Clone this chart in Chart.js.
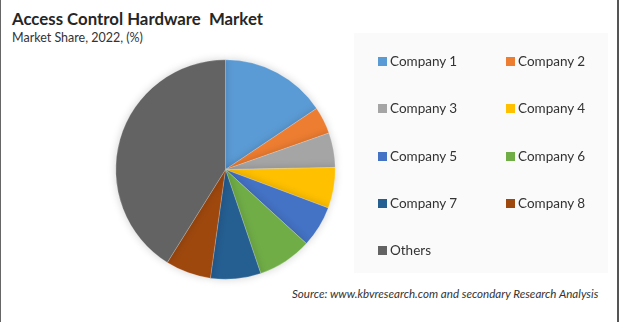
<!DOCTYPE html>
<html>
<head>
<meta charset="utf-8">
<script src="https://cdn.jsdelivr.net/npm/chart.js@4/dist/chart.umd.min.js"></script>
<style>
  html, body { margin: 0; padding: 0; background: #fff; }
  #wrap { position: relative; width: 619px; height: 322px; overflow: hidden; background: #fff;
          box-sizing: border-box; border-left: 1px solid #666; border-right: 2px solid #555; }
  .t { position: absolute; white-space: nowrap; font-family: Lato, "Open Sans", sans-serif; color: #262626; line-height: 1; }
  #title { left: 11px; top: 11px; font-size: 16.8px; font-weight: 700; }
  #subtitle { left: 11px; top: 32px; font-size: 12.5px; color: #333; }
  #source { left: 291px; top: 288px; font-size: 11.6px; font-style: italic; color: #333; }
  #legendBox { position: absolute; left: 353px; top: 33px; width: 254px; height: 240px; background: #fafafa; }
  .li { position: absolute; font-family: Lato, "Open Sans", sans-serif; font-size: 13.5px; color: #333; line-height: 1; white-space: nowrap; }
  .li span.sw { position: absolute; left: 0; top: 2px; width: 9px; height: 9px; }
  .li span.tx { position: absolute; left: 12px; top: 0; }
  #c { position: absolute; left: 0; top: 0; }
</style>
</head>
<body>
<div id="wrap">
  <div class="t" id="title">Access Control Hardware&nbsp; Market</div>
  <div class="t" id="subtitle">Market Share, 2022, (%)</div>
  <div id="legendBox"></div>
  <div class="t" id="source">Source: www.kbvresearch.com and secondary Research Analysis</div>
  <canvas id="c" width="619" height="322"></canvas>
</div>
<script>
const categories = ["Company 1", "Company 2", "Company 3", "Company 4", "Company 5", "Company 6", "Company 7", "Company 8", "Others"];
const shares = [15.6, 4.0, 5.1, 6.0, 6.1, 8.0, 7.4, 6.7, 41.1];
const colors = ["#5B9BD5", "#ED7D31", "#A5A5A5", "#FFC000", "#4472C4", "#70AD47", "#255E91", "#9E480E", "#636363"];

// HTML legend in a 2-column grid, built from the data arrays
const wrap = document.getElementById('wrap');
categories.forEach((name, i) => {
  const col = i % 2, row = Math.floor(i / 2);
  const d = document.createElement('div');
  d.className = 'li';
  d.style.left = (col === 0 ? 377 : 505) + 'px';
  d.style.top = (55 + row * 47.3) + 'px';
  d.innerHTML = '<span class="sw" style="background:' + colors[i] + '"></span><span class="tx"></span>';
  d.querySelector('.tx').textContent = name;
  wrap.appendChild(d);
});

const shadowPlugin = {
  id: 'pieShadow',
  beforeDatasetsDraw(chart) {
    const ctx = chart.ctx;
    ctx.save();
    ctx.shadowColor = 'rgba(0,0,0,0.18)';
    ctx.shadowBlur = 8;
    ctx.shadowOffsetX = 0;
    ctx.shadowOffsetY = 0;
  },
  afterDatasetsDraw(chart) {
    chart.ctx.restore();
  }
};

new Chart(document.getElementById('c'), {
  type: 'pie',
  data: {
    labels: categories,
    datasets: [{
      data: shares,
      backgroundColor: colors,
      borderColor: 'rgba(255,255,255,0.35)',
      borderWidth: 0.6
    }]
  },
  options: {
    responsive: false,
    animation: false,
    rotation: 0,
    layout: { padding: { left: 114.5, right: 284.5, top: 59.5, bottom: 42.5 } },
    plugins: {
      legend: { display: false },
      title: { display: false },
      tooltip: { enabled: false }
    }
  },
  plugins: [shadowPlugin]
});
</script>
</body>
</html>
